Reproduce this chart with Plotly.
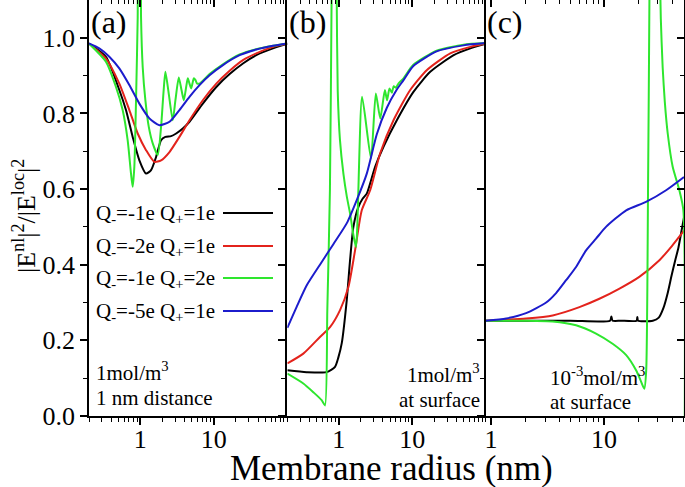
import math
import plotly.graph_objects as go
from plotly.subplots import make_subplots

# ---------------- data (membrane radius in nm, |E^nl|^2/|E^loc|^2) ----------------
SERIES_NAMES = ["Q<sub>-</sub>=-1e Q<sub>+</sub>=1e", "Q<sub>-</sub>=-2e Q<sub>+</sub>=1e",
                "Q<sub>-</sub>=-1e Q<sub>+</sub>=2e", "Q<sub>-</sub>=-5e Q<sub>+</sub>=1e"]
COLORS = ["#000000", "#e3231c", "#2ee62e", "#1c1ccc"]

# panel (a): 1 mol/m^3, 1 nm distance
A_BLACK_R = [0.2, 0.34, 0.517, 0.637, 0.786, 0.969, 1.195, 1.398, 1.636, 1.914, 2.19, 2.62, 3.07, 3.78, 4.66, 7.08, 10.8, 16.4, 24.9, 37.8, 63.9, 100]
A_BLACK_V = [0.985, 0.950, 0.862, 0.809, 0.738, 0.676, 0.641, 0.650, 0.685, 0.729, 0.738, 0.740, 0.747, 0.760, 0.778, 0.826, 0.870, 0.904, 0.932, 0.954, 0.972, 0.984]
A_RED_R = [0.2, 0.34, 0.517, 0.708, 0.92, 1.195, 1.552, 1.914, 2.49, 3.40, 4.66, 7.08, 10.8, 16.4, 24.9, 37.8, 63.9, 100]
A_RED_V = [0.985, 0.945, 0.879, 0.809, 0.747, 0.703, 0.672, 0.676, 0.698, 0.738, 0.782, 0.835, 0.879, 0.913, 0.941, 0.959, 0.976, 0.985]
A_GREEN_R = [0.2, 0.34, 0.466, 0.574, 0.672, 0.746, 0.786, 0.828, 0.873, 0.92, 0.949, 0.99, 1.021, 1.076, 1.17, 1.30, 1.473, 1.723, 1.914, 2.06, 2.19, 2.43, 2.76, 3.00, 3.33, 3.63, 3.90, 4.20, 4.42, 4.66, 4.91, 5.18, 5.34, 5.63, 5.93, 6.38, 8.74, 13.3, 22.4, 37.8, 63.9, 100]
A_GREEN_V = [0.985, 0.937, 0.870, 0.809, 0.729, 0.641, 0.606, 0.659, 0.835, 1.055, 1.35, 1.35, 1.055, 0.923, 0.835, 0.765, 0.721, 0.690, 0.765, 0.853, 0.910, 0.853, 0.782, 0.835, 0.895, 0.862, 0.835, 0.870, 0.893, 0.879, 0.866, 0.884, 0.893, 0.888, 0.879, 0.879, 0.904, 0.930, 0.956, 0.970, 0.979, 0.985]
A_BLUE_R = [0.2, 0.276, 0.378, 0.517, 0.708, 0.969, 1.327, 1.816, 2.49, 3.40, 4.66, 6.38, 8.74, 13.3, 22.4, 37.8, 63.9, 100]
A_BLUE_V = [0.985, 0.972, 0.950, 0.919, 0.875, 0.826, 0.787, 0.769, 0.778, 0.809, 0.844, 0.875, 0.901, 0.928, 0.954, 0.969, 0.979, 0.985]

# panel (b): 1 mol/m^3, at surface
B_BLACK_R = [0.2, 0.366, 0.686, 0.891, 0.99, 1.099, 1.286, 1.428, 1.585, 1.855, 2.125, 2.41, 3.13, 4.07, 6.18, 10.4, 17.6, 36.7, 61.9, 100]
B_BLACK_V = [0.121, 0.116, 0.116, 0.130, 0.155, 0.192, 0.306, 0.412, 0.500, 0.553, 0.575, 0.588, 0.659, 0.712, 0.782, 0.857, 0.910, 0.954, 0.972, 0.984]
B_RED_R = [0.2, 0.33, 0.556, 0.762, 1.043, 1.355, 1.67, 2.06, 2.68, 3.66, 5.57, 9.40, 15.9, 33.0, 61.9, 100]
B_RED_V = [0.139, 0.165, 0.209, 0.235, 0.280, 0.341, 0.438, 0.544, 0.597, 0.694, 0.782, 0.862, 0.915, 0.959, 0.976, 0.985]
B_GREEN_R = [0.2, 0.33, 0.451, 0.586, 0.651, 0.70, 0.76, 0.80, 0.84, 0.90, 0.94, 0.97, 1.04, 1.16, 1.29, 1.43, 1.58, 1.72, 2.08, 2.75, 3.2, 3.68, 4.25, 4.55, 4.91, 5.3, 5.6, 6.0, 6.5, 7.62, 10.3, 21.5, 50, 100]
B_GREEN_V = [0.112, 0.086, 0.063, 0.042, 0.028, 0.28, 0.6, 1.1, 1.6, 1.6, 1.1, 0.86, 0.73, 0.64, 0.58, 0.535, 0.48, 0.447, 0.844, 0.681, 0.853, 0.787, 0.862, 0.835, 0.866, 0.855, 0.872, 0.868, 0.879, 0.893, 0.928, 0.966, 0.982, 0.986]
B_BLUE_R = [0.2, 0.267, 0.366, 0.556, 0.85, 1.29, 1.76, 2.41, 3.3, 4.52, 6.12, 7.62, 10.3, 21.5, 50, 100]
B_BLUE_V = [0.233, 0.288, 0.345, 0.400, 0.455, 0.510, 0.571, 0.641, 0.745, 0.815, 0.862, 0.888, 0.925, 0.964, 0.980, 0.986]

# panel (c): 1e-3 mol/m^3, at surface
C_BLACK_R = [0.9, 5, 11.3, 11.6, 11.9, 14, 19.4, 19.7, 20.0, 27.0, 30.5, 33.5, 36.5, 39.5, 42.5, 45.5, 48.5, 51]
C_BLACK_V = [0.252, 0.252, 0.252, 0.263, 0.252, 0.252, 0.252, 0.262, 0.252, 0.252, 0.26, 0.285, 0.324, 0.37, 0.41, 0.445, 0.49, 0.525]
C_RED_R = [0.9, 2.04, 3.51, 6.05, 9.09, 13.7, 20.5, 30.9, 40, 51]
C_RED_V = [0.252, 0.258, 0.266, 0.288, 0.31, 0.337, 0.368, 0.412, 0.45, 0.49]
C_GREEN_R = [0.9, 2.04, 3.51, 5.65, 8.49, 11.9, 15.7, 19.2, 21.0, 22.7, 23.6, 24.5, 25.2, 25.8, 30.0, 30.9, 31.8, 33.0, 34.5, 36.6, 40.5, 46.4, 50.3, 50.8]
C_GREEN_V = [0.252, 0.252, 0.250, 0.240, 0.218, 0.191, 0.161, 0.121, 0.095, 0.072, 0.12, 0.6, 1.1, 1.6, 1.6, 1.25, 1.05, 0.923, 0.83, 0.747, 0.659, 0.597, 0.545, -0.5]
C_BLUE_R = [0.9, 1.36, 2.04, 3.07, 3.76, 4.61, 5.65, 6.93, 8.49, 10.4, 15.7, 23.5, 35.4, 51]
C_BLUE_V = [0.252, 0.258, 0.272, 0.300, 0.325, 0.359, 0.394, 0.438, 0.469, 0.50, 0.544, 0.566, 0.597, 0.632]

PANELS = [
    [(A_BLACK_R, A_BLACK_V), (A_RED_R, A_RED_V), (A_GREEN_R, A_GREEN_V), (A_BLUE_R, A_BLUE_V)],
    [(B_BLACK_R, B_BLACK_V), (B_RED_R, B_RED_V), (B_GREEN_R, B_GREEN_V), (B_BLUE_R, B_BLUE_V)],
    [(C_BLACK_R, C_BLACK_V), (C_RED_R, C_RED_V), (C_GREEN_R, C_GREEN_V), (C_BLUE_R, C_BLUE_V)],
]
X_RANGES = [(0.2, 100), (0.2, 100), (0.895, 51)]
Y_TICKS = [0, 0.2, 0.4, 0.6, 0.8, 1.0]
Y_TICKTEXT = ["0.0", "0.2", "0.4", "0.6", "0.8", "1.0"]
Y_MINOR = [0.1, 0.3, 0.5, 0.7, 0.9]
X_MAJOR = [1, 10]
X_MINOR = [0.2, 0.3, 0.4, 0.5, 0.6, 0.7, 0.8, 0.9, 2, 3, 4, 5, 6, 7, 8, 9, 20, 30, 40, 50, 60, 70, 80, 90]

FONT = "Liberation Serif"
W, H = 685, 487
ML, MR, MT, MB = 89, 1, 0, 71
PW, PH = W - ML - MR, H - MT - MB


def pxx(x):
    return (x - ML) / PW


def pxy(y):
    return (H - MB - y) / PH


fig = make_subplots(rows=1, cols=3, horizontal_spacing=0)

for p, series in enumerate(PANELS):
    for s, (r, v) in enumerate(series):
        fig.add_trace(go.Scatter(x=r, y=v, mode="lines", name=SERIES_NAMES[s],
                                 line=dict(color=COLORS[s], width=2, shape="spline", smoothing=0.6),
                                 showlegend=False, hoverinfo="skip"),
                      row=1, col=p + 1)

tickfont = dict(family=FONT, size=26, color="black")

for i in range(3):
    lo, hi = X_RANGES[i]
    key = "xaxis" if i == 0 else f"xaxis{i+1}"
    fig.layout[key].update(
        type="log", range=[math.log10(lo), math.log10(hi)], domain=[i / 3, (i + 1) / 3],
        tickmode="array", tickvals=X_MAJOR, ticktext=[str(t) for t in X_MAJOR],
        ticks="outside", ticklen=7, tickwidth=1.5, tickcolor="black", tickfont=tickfont,
        ticklabelstandoff=-8,
        minor=dict(ticks="outside", ticklen=4, tickwidth=1.2, tickcolor="black",
                   tickmode="array", tickvals=X_MINOR),
        showline=True, linecolor="black", linewidth=1.8, mirror=True,
        showgrid=False, zeroline=False, automargin=False)
    ykey = "yaxis" if i == 0 else f"yaxis{i+1}"
    fig.layout[ykey].update(
        range=[0, 1.1], tickmode="array", tickvals=Y_TICKS, ticktext=Y_TICKTEXT,
        showticklabels=(i == 0), ticks="outside", ticklen=7, tickwidth=1.5,
        tickcolor="black", tickfont=tickfont,
        minor=dict(ticks="outside", ticklen=4, tickwidth=1.2, tickcolor="black",
                   tickmode="array", tickvals=Y_MINOR),
        showline=True, linecolor="black", linewidth=1.8, mirror=(i == 2),
        showgrid=False, zeroline=False, automargin=False)

# top axes with inward ticks
for i in range(3):
    lo, hi = X_RANGES[i]
    base = "x" if i == 0 else f"x{i+1}"
    ybase = "y" if i == 0 else f"y{i+1}"
    fig.layout[f"xaxis{i+4}"] = dict(
        type="log", range=[math.log10(lo), math.log10(hi)], overlaying=base, side="top",
        anchor=ybase, showline=False, showgrid=False, zeroline=False, automargin=False,
        tickmode="array", tickvals=X_MAJOR + [100], showticklabels=False,
        ticks="inside", ticklen=7, tickwidth=1.5, tickcolor="black",
        minor=dict(ticks="inside", ticklen=4, tickwidth=1.2, tickcolor="black",
                   tickmode="array", tickvals=X_MINOR))
    fig.add_trace(go.Scatter(x=[], y=[], xaxis=f"x{i+4}", yaxis=ybase,
                             showlegend=False, hoverinfo="skip"))

# right axis of panel (c) with inward ticks
fig.layout["yaxis4"] = dict(
    range=[0, 1.1], overlaying="y3", side="right", anchor="x3",
    showline=False, showgrid=False, zeroline=False, automargin=False,
    tickmode="array", tickvals=Y_TICKS, showticklabels=False,
    ticks="inside", ticklen=7, tickwidth=1.5, tickcolor="black",
    minor=dict(ticks="inside", ticklen=4, tickwidth=1.2, tickcolor="black",
               tickmode="array", tickvals=Y_MINOR))
fig.add_trace(go.Scatter(x=[], y=[], xaxis="x3", yaxis="y4", showlegend=False, hoverinfo="skip"))

annotations = []


def add_text(text, x, y, size, xanchor="center", angle=0):
    annotations.append(dict(text=text, x=pxx(x), y=pxy(y), xref="paper", yref="paper",
                            xanchor=xanchor, yanchor="middle", showarrow=False, textangle=angle,
                            font=dict(family=FONT, size=size, color="black")))


# panel labels
add_text("(a)", 109, 22, 32)
add_text("(b)", 307, 22, 32)
add_text("(c)", 505, 22, 32)

# condition notes
add_text("1mol/m<sup>3</sup>", 94, 371, 21, "left")
add_text("1 nm distance", 94, 398, 21, "left")
add_text("1mol/m<sup>3</sup>", 482, 373, 21, "right")
add_text("at surface", 482, 400, 21, "right")
add_text("10<sup>-3</sup>mol/m<sup>3</sup>", 548, 376, 21, "left")
add_text("at surface", 548, 402, 21, "left")

# axis titles
add_text("Membrane radius (nm)", 391, 468, 35)
add_text("|E<sup>nl</sup>|<sup>2</sup>/|E<sup>loc</sup>|<sup>2</sup>", 25, 216, 26, angle=-90)

# legend (text then line sample, as in the original)
shapes = []
LEG_Y = [213, 246, 278, 311]
for s, name in enumerate(SERIES_NAMES):
    add_text(name, 94, LEG_Y[s] + 1, 21, "left")
    shapes.append(dict(type="line", xref="paper", yref="paper",
                       x0=pxx(223), x1=pxx(273), y0=pxy(LEG_Y[s]), y1=pxy(LEG_Y[s]),
                       line=dict(color=COLORS[s], width=2)))

fig.update_layout(
    width=W, height=H, margin=dict(l=ML, r=MR, t=MT, b=MB, autoexpand=False),
    plot_bgcolor="white", paper_bgcolor="white",
    annotations=annotations, shapes=shapes, showlegend=False,
    font=dict(family=FONT, color="black"),
)

fig.write_html("out.html", config={"displayModeBar": False},
               post_script="document.body.style.margin='0';document.body.style.overflow='hidden';")
